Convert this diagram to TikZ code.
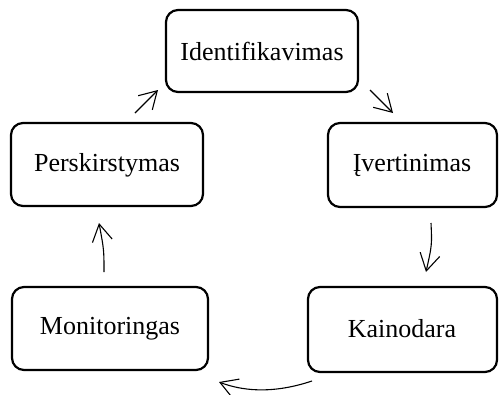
\documentclass[tikz,border=0pt]{standalone}
\usepackage{fontspec}
\setmainfont{Liberation Serif}
\usetikzlibrary{arrows.meta}
\begin{document}
\begin{tikzpicture}[x=1pt,y=-1pt,
  box/.style={draw=black,line width=2.2pt,rounded corners=12pt,fill=white},
  lbl/.style={font=\fontsize{26}{30}\selectfont,text=black},
  arr/.style={draw=black,line width=1.1pt,-{Straight Barb[length=17pt,width=20pt,line width=1.1pt]}}]
\useasboundingbox (0,0) rectangle (503,394);
\draw[box] (166,10) rectangle (358,92);
\node[lbl] (ident) at (262,51) {Identifikavimas};
\draw[box] (11,123) rectangle (203,206);
\node[lbl] (persk) at (107,165) {Perskirstymas};
\draw[box] (328,123) rectangle (497,207);
\node[lbl] (ivert) at (412,165) {Įvertinimas};
\draw[box] (12,287) rectangle (208,370);
\node[lbl] (monit) at (110,329) {Monitoringas};
\draw[box] (308,287) rectangle (497,372);
\node[lbl] (kaino) at (402,329) {Kainodara};
\coordinate (a1s) at (370,90); \coordinate (a1e) at (393,113);
\coordinate (a2s) at (431,223); \coordinate (a2e) at (426,272);
\coordinate (a3s) at (312,381); \coordinate (a3e) at (219,382);
\coordinate (a4s) at (104,272); \coordinate (a4e) at (99,223);
\coordinate (a5s) at (135,113); \coordinate (a5e) at (158,90);
\draw[arr] (a1s) -- (a1e);
\draw[arr] (a2s) .. controls (432,245) .. (a2e);
\draw[arr] (a3s) .. controls (270,395) and (240,390) .. (a3e);
\draw[arr] (a4s) .. controls (104,250) .. (a4e);
\draw[arr] (a5s) -- (a5e);
\end{tikzpicture}
\end{document}
